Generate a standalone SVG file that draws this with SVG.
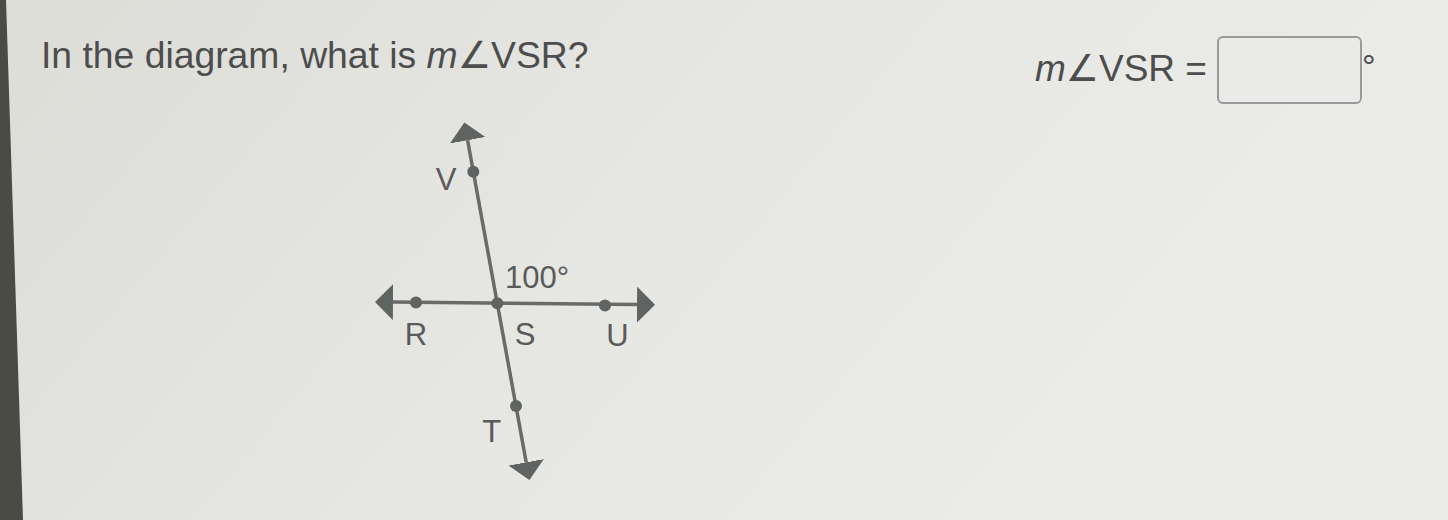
<svg xmlns="http://www.w3.org/2000/svg" width="1448" height="520" viewBox="0 0 1448 520">
  <defs>
    <linearGradient id="bg" x1="0" y1="0" x2="1" y2="0.3">
      <stop offset="0" stop-color="#dcddd7"/>
      <stop offset="0.5" stop-color="#e6e6e3"/>
      <stop offset="1" stop-color="#ececea"/>
    </linearGradient>
    <marker id="arrow" markerUnits="userSpaceOnUse" markerWidth="20" markerHeight="38" refX="0" refY="18" orient="auto-start-reverse" viewBox="0 0 20 38">
      <path d="M0,0 L18,18 L0,36 z" fill="#5f6462"/>
    </marker>
  </defs>
  <style>
    .txt { font-family: "Liberation Sans", "DejaVu Sans", Arial, sans-serif; fill: #4d4d4d; }
    .lbl { font-family: "Liberation Sans", "DejaVu Sans", Arial, sans-serif; font-size: 31px; fill: #5a5a5a; text-anchor: middle; }
    .line { stroke: #6a6a6a; stroke-width: 3.5; fill: none; }
    .dot { fill: #5f6462; }
  </style>
  <rect x="0" y="0" width="1448" height="520" fill="url(#bg)"/>
  <polygon points="0,0 6,0 23,520 0,520" fill="#4a4b45"/>

  <text class="txt" x="41" y="68" font-size="37.3">In the diagram, what is <tspan font-style="italic">m</tspan>∠VSR?</text>

  <g id="answer">
    <text class="txt" x="1035" y="81" font-size="37"><tspan font-style="italic">m</tspan>∠VSR =</text>
    <rect x="1218" y="37" width="143" height="66" rx="5" fill="#eaeae8" stroke="#9a9a9a" stroke-width="2"/>
    <text class="txt" x="1362" y="78" font-size="34">°</text>
  </g>

  <g id="connectors">
    <line class="line" x1="393" y1="302.1" x2="637" y2="304.6" marker-start="url(#arrow)" marker-end="url(#arrow)"/>
    <line class="line" x1="467.6" y1="140.3" x2="526.2" y2="462.3" marker-start="url(#arrow)" marker-end="url(#arrow)"/>
  </g>

  <g id="V"><circle class="dot" cx="473.3" cy="171.7" r="6"/><text class="lbl" x="446" y="190">V</text></g>
  <g id="R"><circle class="dot" cx="416" cy="302.6" r="6"/><text class="lbl" x="416" y="345">R</text></g>
  <g id="S"><circle class="dot" cx="497.3" cy="303.3" r="6"/><text class="lbl" x="525" y="345">S</text></g>
  <g id="U"><circle class="dot" cx="605" cy="305.6" r="6"/><text class="lbl" x="617.5" y="346">U</text></g>
  <g id="T"><circle class="dot" cx="516" cy="406" r="6"/><text class="lbl" x="491.7" y="442">T</text></g>
  <g id="angle"><text class="lbl" x="505" y="288" style="text-anchor:start">100°</text></g>
</svg>
